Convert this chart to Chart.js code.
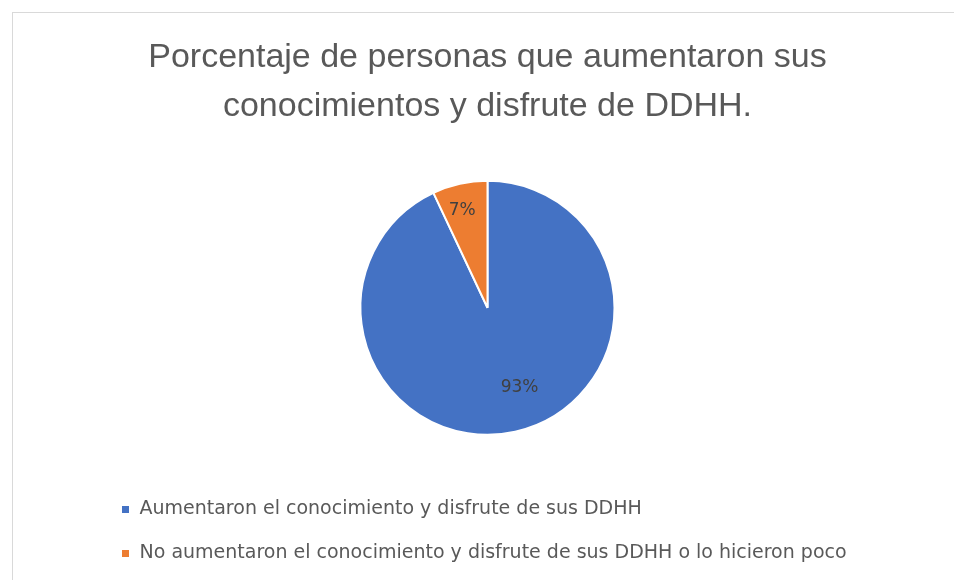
<!DOCTYPE html>
<html>
<head>
<meta charset="utf-8">
<script src="https://cdn.jsdelivr.net/npm/chart.js@4.4.0/dist/chart.umd.min.js"></script>
<style>
    body { margin: 0; background: #fff; }
    #frame { position: absolute; left: 12px; top: 12px; width: 960px; height: 600px; border-left: 1px solid #d9d9d9; border-top: 1px solid #d9d9d9; }
    #box { position: absolute; left: 0; top: 0; width: 954px; height: 580px; }
</style>
</head>
<body>
<div id="frame"></div>
<div id="box"><canvas id="myChart"></canvas></div>
<script>
const labels = [
    'Aumentaron el conocimiento y disfrute de sus DDHH',
    'No aumentaron el conocimiento y disfrute de sus DDHH o lo hicieron poco'
]
const values = [93, 7]
const colors = ['#4472C4', '#ED7D31']
const titleLines = ['Porcentaje de personas que aumentaron sus', 'conocimientos y disfrute de DDHH.']

// label placement inside each slice (fraction of radius, angle nudge in degrees)
const labelRadius = [0.675, 0.79]
const labelNudge = [-9.4, -2]

// draws the "93%" / "7%" labels inside the slices
const sliceLabels = {
    id: 'sliceLabels',
    afterDatasetsDraw(chart) {
        const ctx = chart.ctx
        const meta = chart.getDatasetMeta(0)
        const total = values.reduce((a, b) => a + b, 0)
        ctx.save()
        ctx.font = '17px "DejaVu Sans", sans-serif'
        ctx.fillStyle = '#404040'
        ctx.textAlign = 'center'
        ctx.textBaseline = 'middle'
        meta.data.forEach((arc, i) => {
            const mid = (arc.startAngle + arc.endAngle) / 2 + labelNudge[i] * Math.PI / 180
            const r = arc.outerRadius * labelRadius[i]
            const x = arc.x + Math.cos(mid) * r
            const y = arc.y + Math.sin(mid) * r
            ctx.fillText(Math.round(values[i] / total * 100) + '%', x, y)
        })
        ctx.restore()
    }
}

const ctx = document.getElementById('myChart').getContext('2d')

const config = {
    type: 'pie',
    data: {
        labels: labels,
        datasets: [{
            data: values,
            backgroundColor: colors,
            borderColor: '#ffffff',
            borderWidth: 2,
            radius: 127
        }]
    },
    options: {
        responsive: true,
        maintainAspectRatio: false,
        animation: false,
        layout: {
            padding: { left: 96, right: 75, top: 33, bottom: 7 }
        },
        plugins: {
            title: {
                display: true,
                text: titleLines,
                color: '#595959',
                font: { family: '"Liberation Sans", sans-serif', size: 34, weight: 'normal', lineHeight: 1.45 },
                padding: { top: 0, bottom: 9 }
            },
            legend: {
                display: true,
                position: 'bottom',
                align: 'start',
                labels: {
                    color: '#595959',
                    boxWidth: 9,
                    boxHeight: 9,
                    padding: 25,
                    font: { family: '"DejaVu Sans", sans-serif', size: 19 }
                }
            },
            tooltip: { enabled: false }
        }
    },
    plugins: [sliceLabels]
}

new Chart(ctx, config)
</script>
</body>
</html>
